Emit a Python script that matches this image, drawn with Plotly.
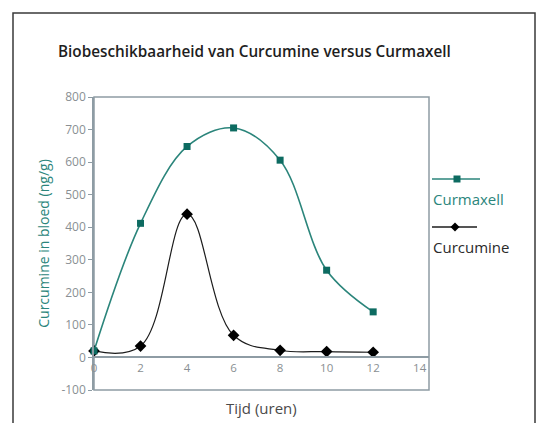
import plotly.graph_objects as go

hours = [0, 2, 4, 6, 8, 10, 12]
curmaxell = [20, 412, 648, 705, 606, 268, 140]
curcumine = [20, 35, 440, 68, 22, 18, 16]
series_names = ["Curmaxell", "Curcumine"]
x_ticks = [0, 2, 4, 6, 8, 10, 12, 14]
y_ticks = [-100, 0, 100, 200, 300, 400, 500, 600, 700, 800]

teal_line = "#2b857b"
teal_marker = "#0d6b61"
dark = "#1c1c1c"
axis_gray = "#8e9ca4"
label_gray = "#8a8f93"
font_family = "Open Sans, Noto Sans, sans-serif"

fig = go.Figure()
fig.add_trace(go.Scatter(
    x=hours, y=curcumine, name=series_names[1], mode="lines+markers",
    line=dict(color=dark, width=1.2, shape="spline", smoothing=1.1),
    marker=dict(symbol="diamond", size=9, color="#000000"),
    cliponaxis=False,
))
fig.add_trace(go.Scatter(
    x=hours, y=curmaxell, name=series_names[0], mode="lines+markers",
    line=dict(color=teal_line, width=1.6, shape="spline", smoothing=1.0),
    marker=dict(symbol="square", size=7, color=teal_marker),
    cliponaxis=False,
))

W, H = 538, 423
L, R, T, B = 94, 109, 97, 33
pw, ph = W - L - R, H - T - B


def px_x(p):
    return (p - L) / pw


def px_y(p):
    return (H - B - p) / ph


shapes = [
    # outer frame
    dict(type="rect", xref="paper", yref="paper",
         x0=px_x(13), x1=px_x(535), y0=px_y(440), y1=px_y(13),
         line=dict(color="#3a3a3a", width=1.5), layer="below"),
    # plot box
    dict(type="rect", xref="paper", yref="paper", x0=0, x1=1, y0=0, y1=1,
         line=dict(color=axis_gray, width=1.5), layer="below"),
    # legend lines
    dict(type="line", xref="paper", yref="paper",
         x0=px_x(432), x1=px_x(480), y0=px_y(179), y1=px_y(179),
         line=dict(color=teal_line, width=1.5)),
    dict(type="rect", xref="paper", yref="paper",
         x0=px_x(453.5), x1=px_x(460.5), y0=px_y(182.5), y1=px_y(175.5),
         line=dict(width=0), fillcolor=teal_marker),
    dict(type="line", xref="paper", yref="paper",
         x0=px_x(432), x1=px_x(477), y0=px_y(227), y1=px_y(227),
         line=dict(color=dark, width=1.5)),
    dict(type="path", xref="paper", yref="paper",
         path="M {a},{b} L {c},{d} L {a},{e} L {f},{d} Z".format(
             a=px_x(455), b=px_y(222.5), c=px_x(459.5), d=px_y(227),
             e=px_y(231.5), f=px_x(450.5)),
         line=dict(width=0), fillcolor="#000000"),
]

annotations = [
    dict(text=series_names[0], xref="paper", yref="paper", x=px_x(431), y=px_y(199),
         xanchor="left", yanchor="middle", showarrow=False,
         font=dict(family=font_family, size=15, color=teal_line)),
    dict(text=series_names[1], xref="paper", yref="paper", x=px_x(431), y=px_y(247),
         xanchor="left", yanchor="middle", showarrow=False,
         font=dict(family=font_family, size=15, color="#2a2a2a")),
    dict(text="Tijd (uren)", xref="paper", yref="paper", x=0.5, y=px_y(408),
         xanchor="center", yanchor="middle", showarrow=False,
         font=dict(family=font_family, size=15, color="#4a4a4a")),
]

fig.update_layout(
    width=W, height=H,
    margin=dict(l=L, r=R, t=T, b=B),
    paper_bgcolor="white", plot_bgcolor="white",
    showlegend=False,
    title=dict(text="Biobeschikbaarheid van Curcumine versus Curmaxell",
               x=58 / W, xanchor="left", xref="container",
               y=1 - 52 / H, yanchor="middle",
               font=dict(family=font_family, size=15.3, color="#1e1e1e", weight=600)),
    font=dict(family=font_family),
    shapes=shapes,
    annotations=annotations,
    xaxis=dict(range=[0, 14.4], tickvals=x_ticks, ticktext=[str(v) for v in x_ticks],
               showgrid=False, zeroline=False, showline=True, linecolor=axis_gray,
               linewidth=1.5, ticks="", anchor="free", position=100 / 900,
               tickfont=dict(family=font_family, size=11.5, color=label_gray)),
    yaxis=dict(range=[-100, 800], tickvals=y_ticks, ticktext=[str(v) for v in y_ticks],
               showgrid=False, zeroline=False, showline=True, linecolor=axis_gray,
               linewidth=1.5, ticks="outside", ticklen=4, tickcolor=axis_gray,
               tickfont=dict(family=font_family, size=12, color=label_gray),
               title=dict(text="Curcumine in bloed (ng/g)", standoff=8,
                          font=dict(family=font_family, size=14, color=teal_line))),
)

fig.write_html("out.html", config={"displayModeBar": False},
               post_script="document.body.style.margin='0';document.body.style.overflow='hidden';")
